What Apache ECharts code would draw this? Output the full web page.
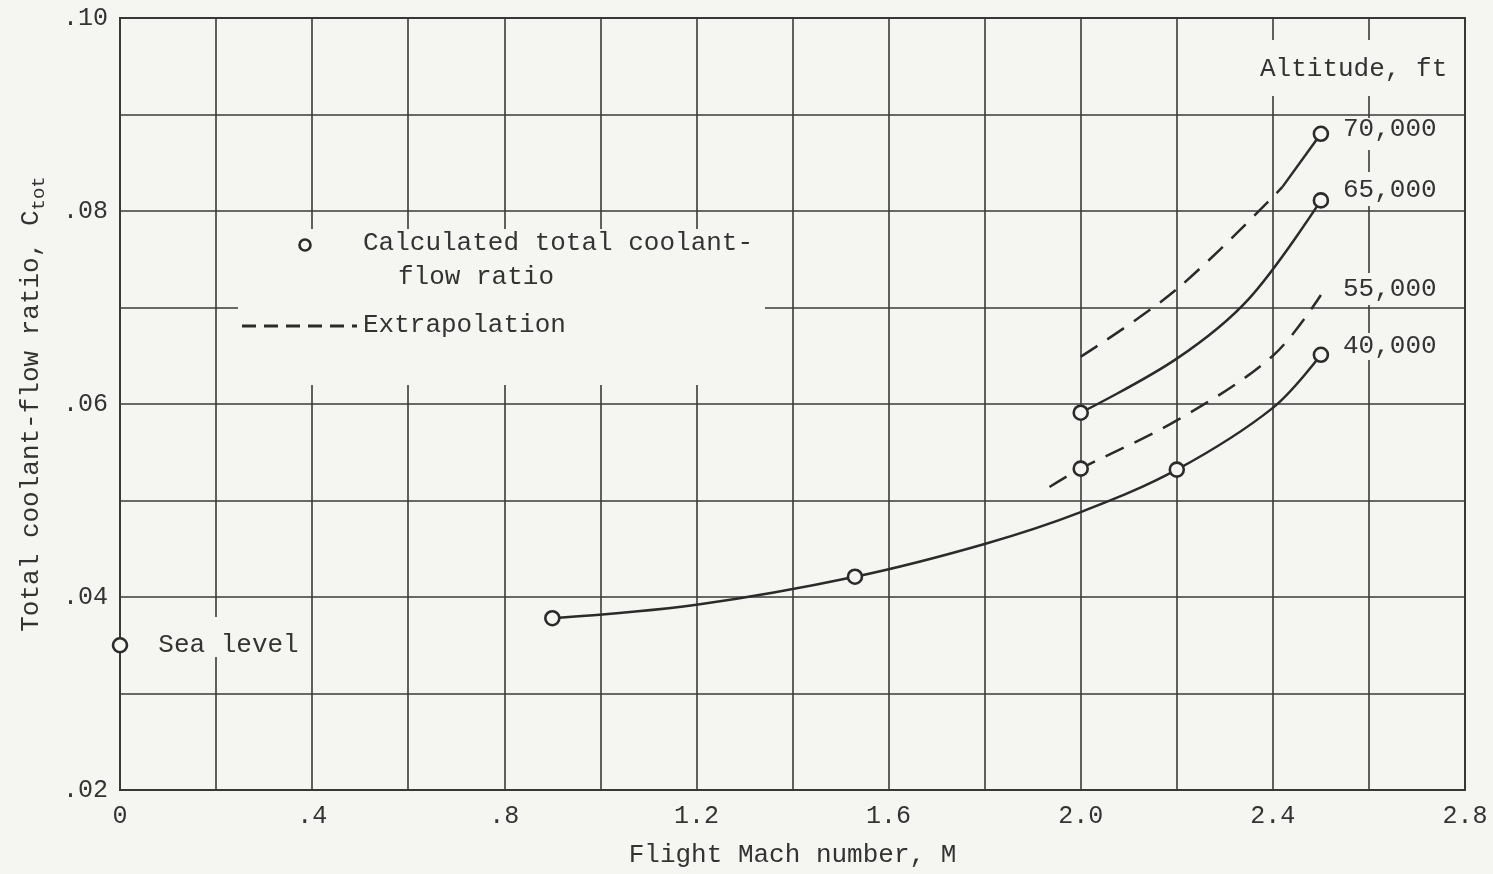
<!DOCTYPE html>
<html><head><meta charset="utf-8">
<script src="https://cdn.jsdelivr.net/npm/echarts@6/dist/echarts.min.js"></script>
<style>html,body{margin:0;padding:0;background:#f5f5f2;} #c{width:1493px;height:874px;}</style>
</head><body><div id="c"></div>
<script>
// ---- data ----
const xTickLabels = ['0', '.4', '.8', '1.2', '1.6', '2.0', '2.4', '2.8'];
const yTickLabels = ['.02', '.04', '.06', '.08', '.10'];
const altitudeLabels = ['70,000', '65,000', '55,000', '40,000'];
const seaLevelPoint = [[0, 0.035]];
const alt40Curve = [[0.9, 0.0378], [1.2, 0.0392], [1.53, 0.0421], [1.8, 0.0455], [2.0, 0.0488], [2.2, 0.0532], [2.4, 0.0596], [2.5, 0.0651]];
const alt40Points = [[0.9, 0.0378], [1.53, 0.0421], [2.2, 0.0532], [2.5, 0.0651]];
const alt55Extrap = [[1.935, 0.0514], [2.0, 0.0533], [2.2, 0.0583], [2.4, 0.0650], [2.5, 0.0713]];
const alt55Points = [[2.0, 0.0533]];
const alt65Curve = [[2.0, 0.0591], [2.2, 0.0647], [2.35, 0.0709], [2.5, 0.0811]];
const alt65Points = [[2.0, 0.0591], [2.5, 0.0811]];
const alt70Extrap = [[2.0, 0.0649], [2.2, 0.0719], [2.42, 0.0825]];
const alt70Curve = [[2.42, 0.0825], [2.5, 0.0880]];
const alt70Points = [[2.5, 0.0880]];

// ---- styling ----
const BG = '#f5f5f2';
const INK = '#2b2b2b';
const TXT = '#333333';
const FONT = '"Liberation Mono", "DejaVu Sans Mono", monospace';
const DASH = [20, 12];

function lineSeries(data, dashed) {
  return {
    type: 'line', data: data, smooth: 0.35, showSymbol: false,
    symbol: 'none', silent: true, z: 3,
    lineStyle: { color: INK, width: 2.5, type: dashed ? DASH : 'solid' }
  };
}
function pointSeries(data, extra) {
  return Object.assign({
    type: 'scatter', data: data, symbol: 'circle', symbolSize: 14, clip: false, z: 5,
    itemStyle: { color: BG, borderColor: INK, borderWidth: 2.6, opacity: 1 }
  }, extra || {});
}
function txt(x, y, s, extra) {
  return Object.assign({ type: 'text', x: x, y: y, z: 6,
    style: { text: s, fill: TXT, font: '26px ' + FONT, verticalAlign: 'middle', align: 'left' } }, extra || {});
}
function mask(x, y, w, h) {
  return { type: 'rect', z: 1, silent: true, shape: { x: x, y: y, width: w, height: h }, style: { fill: BG } };
}

const chart = echarts.init(document.getElementById('c'), null, { renderer: 'canvas' });
chart.setOption({
  backgroundColor: BG,
  animation: false,
  grid: { left: 120, right: 28, top: 18, bottom: 84, show: true, borderColor: '#333', borderWidth: 2, backgroundColor: 'transparent', outerBoundsMode: 'none' },
  xAxis: {
    type: 'value', min: 0, max: 2.8, interval: 0.2,
    name: 'Flight Mach number, M', nameLocation: 'middle', nameGap: 52,
    nameTextStyle: { fontFamily: FONT, fontSize: 26, color: TXT },
    axisLine: { show: false }, axisTick: { show: false },
    axisLabel: {
      margin: 14, fontFamily: FONT, fontSize: 25, color: TXT,
      formatter: function (v) { const i = Math.round(v * 10); return i % 4 === 0 ? xTickLabels[i / 4] : ''; }
    },
    splitLine: { show: true, lineStyle: { color: '#3a3a3a', width: 1.6 } }
  },
  yAxis: {
    type: 'value', min: 0.02, max: 0.10, interval: 0.01,
    name: '{a|Total coolant-flow ratio, C}{s|tot}', nameLocation: 'middle', nameGap: 72,
    nameTextStyle: {
      fontFamily: FONT, color: TXT,
      rich: {
        a: { fontFamily: FONT, fontSize: 26, color: TXT, lineHeight: 34 },
        s: { fontFamily: FONT, fontSize: 19, color: TXT, lineHeight: 20, verticalAlign: 'bottom' }
      }
    },
    axisLine: { show: false }, axisTick: { show: false },
    axisLabel: {
      margin: 12, fontFamily: FONT, fontSize: 25, color: TXT,
      formatter: function (v) { const i = Math.round(v * 100); return i % 2 === 0 ? yTickLabels[(i - 2) / 2] : ''; }
    },
    splitLine: { show: true, lineStyle: { color: '#3a3a3a', width: 1.6 } }
  },
  series: [
    lineSeries(alt40Curve, false),
    lineSeries(alt55Extrap, true),
    lineSeries(alt65Curve, false),
    lineSeries(alt70Extrap, true),
    lineSeries(alt70Curve, false),
    pointSeries(alt40Points),
    pointSeries(alt55Points),
    pointSeries(alt65Points),
    pointSeries(alt70Points),
    pointSeries(seaLevelPoint, {
      label: { show: true, position: 'right', distance: 30, formatter: 'Sea level', fontFamily: FONT, fontSize: 26, color: TXT, opacity: 1 }
    })
  ],
  graphic: {
    elements: [
      mask(238, 229, 527, 156),
      mask(1250, 40, 208, 56),
      mask(1338, 118, 110, 32),
      mask(1338, 172, 110, 34),
      mask(1338, 273, 110, 32),
      mask(1338, 333, 110, 27),
      mask(150, 617, 155, 40),
      { type: 'circle', z: 6, shape: { cx: 305, cy: 245, r: 5.5 }, style: { fill: BG, stroke: INK, lineWidth: 2.6 } },
      txt(363, 243, 'Calculated total coolant-'),
      txt(398, 277, 'flow ratio'),
      { type: 'line', z: 6, shape: { x1: 242, y1: 326, x2: 357, y2: 326 }, style: { stroke: INK, lineWidth: 2.8, lineDash: [14, 8] } },
      txt(363, 325, 'Extrapolation'),
      txt(1260, 69, 'Altitude, ft'),
      txt(1343, 129, altitudeLabels[0]),
      txt(1343, 190, altitudeLabels[1]),
      txt(1343, 289, altitudeLabels[2]),
      txt(1343, 346, altitudeLabels[3])
    ]
  }
});
</script></body></html>
